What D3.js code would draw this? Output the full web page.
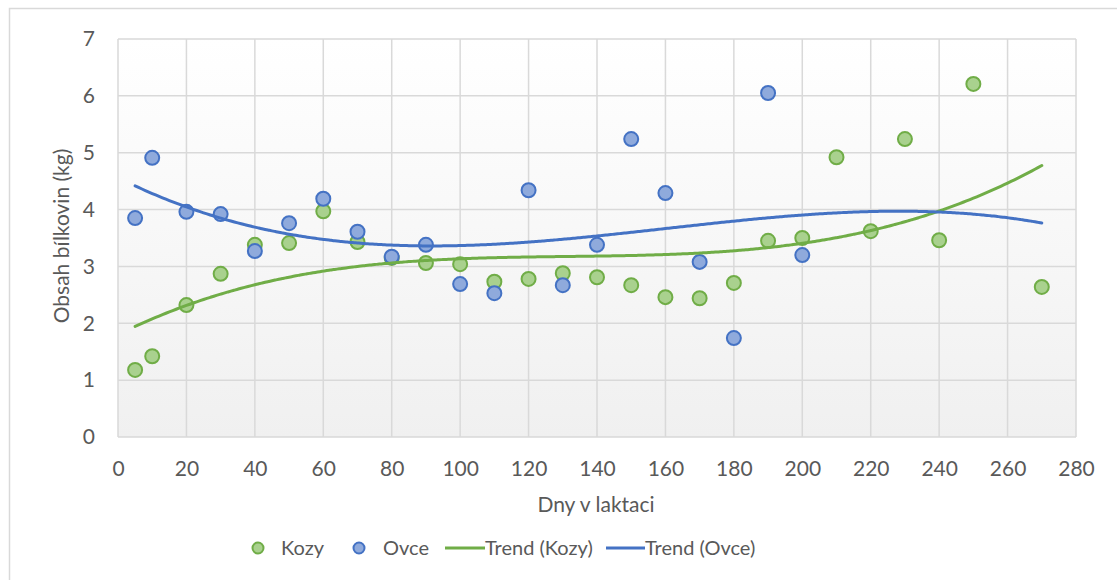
<!DOCTYPE html>
<html>
<head>
<meta charset="utf-8">
<script src="https://cdn.jsdelivr.net/npm/d3@7"></script>
<style>
  body { margin: 0; background: #fff; }
  svg { display: block; font-family: Lato, "Open Sans", sans-serif; }
  .tick text { fill: #595959; font-size: 21px; font-family: Lato, "Open Sans", sans-serif; }
</style>
</head>
<body>
<svg width="1117" height="580"></svg>
<script>
// days in lactation
const kozyDays = [5, 10, 20, 30, 40, 50, 60, 70, 80, 90, 100, 110, 120, 130, 140, 150, 160, 170, 180, 190, 200, 210, 220, 230, 240, 250, 270];
const kozyValues = [1.18, 1.42, 2.32, 2.87, 3.38, 3.41, 3.97, 3.43, 3.15, 3.06, 3.04, 2.73, 2.78, 2.88, 2.81, 2.67, 2.46, 2.44, 2.71, 3.45, 3.50, 4.92, 3.62, 5.24, 3.46, 6.21, 2.64];
const ovceDays = [5, 10, 20, 30, 40, 50, 60, 70, 80, 90, 100, 110, 120, 130, 140, 150, 160, 170, 180, 190, 200];
const ovceValues = [3.85, 4.91, 3.96, 3.92, 3.27, 3.76, 4.19, 3.61, 3.17, 3.38, 2.69, 2.53, 4.34, 2.67, 3.38, 5.24, 4.29, 3.08, 1.74, 6.05, 3.20];
const xTicks = [0, 20, 40, 60, 80, 100, 120, 140, 160, 180, 200, 220, 240, 260, 280];
const yTicks = [0, 1, 2, 3, 4, 5, 6, 7];
const trendRange = [5, 270];

const PLOT = { left: 118, right: 1076, top: 39, bottom: 437 };

const x = d3.scaleLinear().domain([0, 280]).range([PLOT.left, PLOT.right]);
const y = d3.scaleLinear().domain([0, 7]).range([PLOT.bottom, PLOT.top]);

const svg = d3.select('svg');

// outer chart frame (cut off on the right and bottom)
svg.append('rect')
  .attr('x', 9.5).attr('y', 8.5)
  .attr('width', 1300).attr('height', 700)
  .attr('fill', '#fff')
  .attr('stroke', '#d9d9d9')
  .attr('stroke-width', 1.5);

const defs = svg.append('defs');
const grad = defs.append('linearGradient')
  .attr('id', 'plotbg').attr('x1', 0).attr('y1', 0).attr('x2', 0).attr('y2', 1);
grad.append('stop').attr('offset', '0%').attr('stop-color', '#ffffff');
grad.append('stop').attr('offset', '100%').attr('stop-color', '#f0f0f0');

svg.append('rect')
  .attr('x', PLOT.left).attr('y', PLOT.top)
  .attr('width', PLOT.right - PLOT.left).attr('height', PLOT.bottom - PLOT.top)
  .attr('fill', 'url(#plotbg)');

// grid
svg.append('g')
  .selectAll('line')
  .data(yTicks)
  .enter()
  .append('line')
  .attr('x1', PLOT.left).attr('x2', PLOT.right)
  .attr('y1', (d) => y(d)).attr('y2', (d) => y(d))
  .attr('stroke', '#d9d9d9')
  .attr('stroke-width', 1.5);

svg.append('g')
  .selectAll('line')
  .data(xTicks)
  .enter()
  .append('line')
  .attr('x1', (d) => x(d)).attr('x2', (d) => x(d))
  .attr('y1', PLOT.top).attr('y2', PLOT.bottom)
  .attr('stroke', '#d9d9d9')
  .attr('stroke-width', 1.5);

// axes (labels only)
svg.append('g')
  .attr('transform', `translate(0, ${PLOT.bottom})`)
  .call(d3.axisBottom(x).tickValues(xTicks).tickSize(0).tickPadding(24))
  .call((g) => g.select('.domain').remove());

svg.append('g')
  .attr('transform', `translate(${PLOT.left}, 0)`)
  .call(d3.axisLeft(y).tickValues(yTicks).tickFormat(d3.format('d')).tickSize(0).tickPadding(23))
  .call((g) => g.select('.domain').remove());

svg.append('text')
  .attr('x', 596).attr('y', 512)
  .attr('text-anchor', 'middle')
  .attr('fill', '#595959')
  .attr('font-size', 21)
  .text('Dny v laktaci');

svg.append('text')
  .attr('transform', 'translate(69, 236) rotate(-90)')
  .attr('text-anchor', 'middle')
  .attr('fill', '#595959')
  .attr('font-size', 21)
  .text('Obsah bílkovin (kg)');

// cubic least-squares trend, like Excel polynomial order 3
function polyFit(xs, ys, order) {
  const n = order + 1;
  const A = [];
  for (let i = 0; i < n; i++) {
    A.push(new Array(n + 1).fill(0));
  }
  xs.forEach((xv, k) => {
    for (let i = 0; i < n; i++) {
      for (let j = 0; j < n; j++) A[i][j] += Math.pow(xv, i + j);
      A[i][n] += ys[k] * Math.pow(xv, i);
    }
  });
  for (let c = 0; c < n; c++) {
    let p = c;
    for (let r = c + 1; r < n; r++) if (Math.abs(A[r][c]) > Math.abs(A[p][c])) p = r;
    [A[c], A[p]] = [A[p], A[c]];
    for (let r = 0; r < n; r++) {
      if (r === c) continue;
      const f = A[r][c] / A[c][c];
      for (let j = c; j <= n; j++) A[r][j] -= f * A[c][j];
    }
  }
  const coef = A.map((row, i) => row[n] / row[i]);
  return (xv) => coef.reduce((s, a, i) => s + a * Math.pow(xv, i), 0);
}

const kozyFit = polyFit(kozyDays, kozyValues, 3);
const ovceFit = polyFit(ovceDays, ovceValues, 3);
const trendDays = d3.range(trendRange[0], trendRange[1] + 0.5, 1);

const line = d3.line().x((d) => x(d[0])).y((d) => y(d[1])).curve(d3.curveMonotoneX);

// markers
const series = [
  { days: kozyDays, values: kozyValues, fill: '#a9d18e', stroke: '#70ad47' },
  { days: ovceDays, values: ovceValues, fill: '#8faadc', stroke: '#4472c4' },
];

series.forEach((s) => {
  svg.append('g')
    .selectAll('circle')
    .data(s.days.map((d, i) => [d, s.values[i]]))
    .enter()
    .append('circle')
    .attr('cx', (d) => x(d[0]))
    .attr('cy', (d) => y(d[1]))
    .attr('r', 7)
    .attr('fill', s.fill)
    .attr('stroke', s.stroke)
    .attr('stroke-width', 2);
});

svg.append('path')
  .datum(trendDays.map((d) => [d, kozyFit(d)]))
  .attr('d', line)
  .attr('fill', 'none')
  .attr('stroke', '#70ad47')
  .attr('stroke-width', 3)
  .attr('stroke-linecap', 'round');

svg.append('path')
  .datum(trendDays.map((d) => [d, ovceFit(d)]))
  .attr('d', line)
  .attr('fill', 'none')
  .attr('stroke', '#4472c4')
  .attr('stroke-width', 3)
  .attr('stroke-linecap', 'round');

// legend
const legendY = 548;
const legend = svg.append('g').attr('font-size', 20).attr('fill', '#595959');

[{ cx: 258, tx: 281, label: 'Kozy', s: series[0] }, { cx: 359, tx: 383, label: 'Ovce', s: series[1] }]
  .forEach((item) => {
    legend.append('circle')
      .attr('cx', item.cx).attr('cy', legendY).attr('r', 5.5)
      .attr('fill', item.s.fill).attr('stroke', item.s.stroke).attr('stroke-width', 2);
    legend.append('text')
      .attr('x', item.tx).attr('y', legendY).attr('dy', '0.35em')
      .text(item.label);
  });

[{ x1: 445, x2: 485, label: 'Trend (Kozy)', color: '#70ad47' }, { x1: 606, x2: 645, label: 'Trend (Ovce)', color: '#4472c4' }]
  .forEach((item) => {
    legend.append('line')
      .attr('x1', item.x1).attr('x2', item.x2)
      .attr('y1', legendY).attr('y2', legendY)
      .attr('stroke', item.color).attr('stroke-width', 3);
    legend.append('text')
      .attr('x', item.x2).attr('y', legendY).attr('dy', '0.35em')
      .text(item.label);
  });
</script>
</body>
</html>
